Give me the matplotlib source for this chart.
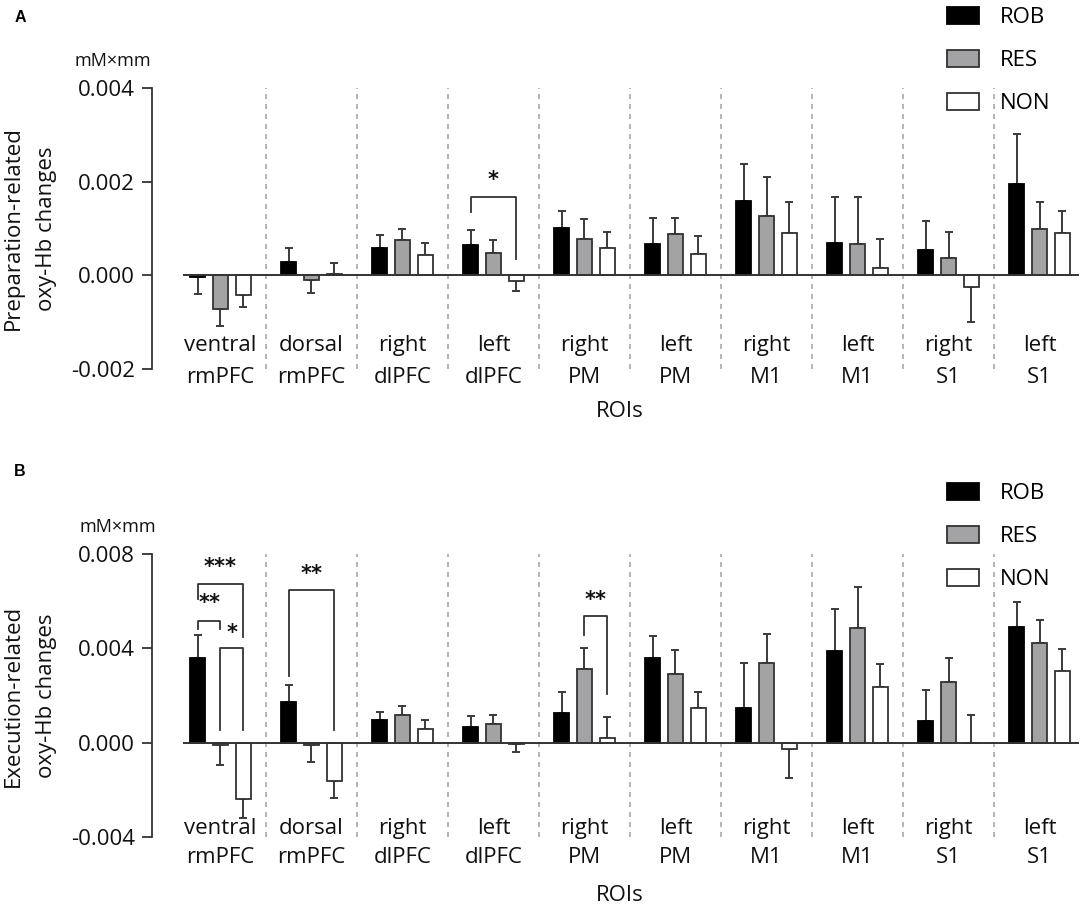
import matplotlib
matplotlib.use("Agg")
import matplotlib.pyplot as plt
import numpy as np

plt.rcParams['font.family'] = ['Open Sans', 'DejaVu Sans']
plt.rcParams['axes.unicode_minus'] = False

# ---------------- data ----------------
roi_top = ["ventral", "dorsal", "right", "left", "right", "left", "right", "left", "right", "left"]
roi_bot = ["rmPFC", "rmPFC", "dlPFC", "dlPFC", "PM", "PM", "M1", "M1", "S1", "S1"]
series_names = ["ROB", "RES", "NON"]

# Panel A: preparation-related
rob_a = [-0.00003, 0.00028, 0.00059, 0.00064, 0.00102, 0.00066, 0.00159, 0.00070, 0.00055, 0.00195]
rob_a_err = [0.00037, 0.00030, 0.00027, 0.00032, 0.00036, 0.00056, 0.00079, 0.00097, 0.00061, 0.00106]
res_a = [-0.00072, -0.00011, 0.00076, 0.00048, 0.00077, 0.00089, 0.00126, 0.00066, 0.00036, 0.00099]
res_a_err = [0.00036, 0.00027, 0.00023, 0.00027, 0.00043, 0.00033, 0.00083, 0.00101, 0.00056, 0.00057]
non_a = [-0.00043, 0.00003, 0.00043, -0.00013, 0.00059, 0.00045, 0.00090, 0.00016, -0.00024, 0.00090]
non_a_err = [0.00025, 0.00024, 0.00025, 0.00021, 0.00034, 0.00039, 0.00066, 0.00061, 0.00075, 0.00047]

# Panel B: execution-related
rob_b = [0.00358, 0.00172, 0.00097, 0.00065, 0.00124, 0.00358, 0.00147, 0.00390, 0.00091, 0.00489]
rob_b_err = [0.00100, 0.00073, 0.00033, 0.00046, 0.00092, 0.00096, 0.00189, 0.00175, 0.00131, 0.00108]
res_b = [-0.00009, -0.00011, 0.00118, 0.00078, 0.00313, 0.00290, 0.00336, 0.00485, 0.00259, 0.00421]
res_b_err = [0.00085, 0.00073, 0.00037, 0.00040, 0.00090, 0.00105, 0.00125, 0.00174, 0.00099, 0.00098]
non_b = [-0.00240, -0.00162, 0.00060, -0.00004, 0.00018, 0.00147, -0.00027, 0.00236, 0.00000, 0.00304]
non_b_err = [0.00081, 0.00073, 0.00037, 0.00036, 0.00092, 0.00068, 0.00121, 0.00098, 0.00117, 0.00093]

yticks_a = [-0.002, 0.000, 0.002, 0.004]
yticks_b = [-0.004, 0.000, 0.004, 0.008]
ylabel_a = ["Preparation-related", "oxy-Hb changes"]
ylabel_b = ["Execution-related", "oxy-Hb changes"]

# significance brackets: (group, series_from, series_to, y_bar, y_left_end, y_right_end, label, y_label)
sig_a = [(3, 0, 2, 0.00167, 0.00136, 0.00035, "*", 0.00204)]
sig_b = [(0, 0, 2, 0.00671, 0.00609, 0.00450, "***", 0.00744),
         (0, 0, 1, 0.00516, 0.00482, 0.00482, "**", 0.00592),
         (0, 1, 2, 0.00400, 0.00054, 0.00054, "*", 0.00467),
         (1, 0, 2, 0.00647, 0.00282, 0.00054, "**", 0.00716),
         (4, 1, 2, 0.00539, 0.00457, 0.00208, "**", 0.00606)]

# ---------------- style ----------------
W, H = 1084, 906
fig = plt.figure(figsize=(W / 100, H / 100), dpi=100)
colors = ["#000000", "#a3a3a6", "#ffffff"]
edge = "#333333"
txt = "#111111"
offsets = [-0.25, 0.0, 0.25]
bar_w = 0.17
x = np.arange(len(roi_top))

def px_axes(left, right, top, bottom):
    return fig.add_axes([left / W, 1 - bottom / H, (right - left) / W, (bottom - top) / H])

def panel(ax, data, ylim, yticks, ylabel, sigs, lbl_y1, lbl_y2, rois_y):
    ax.set_xlim(-0.412, 9.434)
    ax.set_ylim(*ylim)
    for b in np.arange(0.5, len(x) - 0.5, 1.0):
        ax.axvline(b, color="#a8a8a8", ls=(0, (3, 3)), lw=1.2, zorder=0)
    for k, (vals, errs) in enumerate(data):
        vals = np.array(vals)
        errs = np.array(errs)
        pos = x + offsets[k]
        lower = np.where(vals < 0, errs, 0)
        upper = np.where(vals >= 0, errs, 0)
        ax.errorbar(pos, vals, yerr=[lower, upper], fmt='none', ecolor="#3a3a3a",
                    elinewidth=1.4, capsize=3.0, capthick=1.4, zorder=1)
        ax.bar(pos, vals, width=bar_w, color=colors[k], edgecolor=edge if k else "#000000",
               linewidth=1.3, zorder=2, label=series_names[k])
    ax.axhline(0, color=edge, lw=1.4, zorder=3)
    for (g, s1, s2, yb, yl, yr, lab, ylab) in sigs:
        x1 = g + offsets[s1]
        x2 = g + offsets[s2]
        ax.plot([x1, x1, x2, x2], [yl, yb, yb, yr], color=edge, lw=1.3, zorder=4)
        ax.text((x1 + x2) / 2, ylab, lab, ha='center', va='center', fontsize=15,
                family='DejaVu Sans', fontweight='bold', color=txt)
    for sp in ["top", "right", "bottom"]:
        ax.spines[sp].set_visible(False)
    ax.spines["left"].set_position(("outward", 22.3))
    ax.spines["left"].set_color(edge)
    ax.spines["left"].set_linewidth(1.3)
    ax.set_xticks([])
    ax.set_yticks(yticks)
    ax.set_yticklabels([f"{t:.3f}" for t in yticks])
    ax.tick_params(axis='y', direction='out', length=7.2, width=1.3, color=edge,
                   labelsize=16, pad=5, labelcolor=txt)
    trans = ax.get_xaxis_transform()
    for i in x:
        ax.text(i, lbl_y1, roi_top[i], transform=trans, ha='center', va='center', fontsize=16, color=txt)
        ax.text(i, lbl_y2, roi_bot[i], transform=trans, ha='center', va='center', fontsize=16, color=txt)
    ax.text(0.4877, rois_y, "ROIs", transform=ax.transAxes, ha='center', va='center', fontsize=16, color=txt)
    # two-line y label, placed in axes coords left of the spine
    ax.text(-0.1897, 0.5, ylabel[0], transform=ax.transAxes, rotation=90, ha='center', va='center',
            fontsize=16, color=txt)
    ax.text(-0.1518, 0.5, ylabel[1], transform=ax.transAxes, rotation=90, ha='center', va='center',
            fontsize=16, color=txt)

axA = px_axes(183, 1079, 88, 369)
panel(axA, [(rob_a, rob_a_err), (res_a, res_a_err), (non_a, non_a_err)],
      (-0.002, 0.004), yticks_a, ylabel_a, sig_a,
      0.0854, -0.0285, -0.153)
axB = px_axes(183, 1079, 554, 837)
panel(axB, [(rob_b, rob_b_err), (res_b, res_b_err), (non_b, non_b_err)],
      (-0.004, 0.008), yticks_b, ylabel_b, sig_b,
      0.0318, -0.0742, -0.205)

for ax, top in [(axA, 7), (axB, 483)]:
    ax.legend(loc='upper left', bbox_to_anchor=(947 / W, 1 - top / H), bbox_transform=fig.transFigure,
              frameon=False, fontsize=16, borderpad=0, borderaxespad=0,
              handlelength=1.44, handleheight=0.81, handletextpad=0.95, labelspacing=0.98)

fig.text(113 / W, 1 - 61 / H, "mM×mm", ha='center', va='center', fontsize=13, color=txt)
fig.text(118 / W, 1 - 527 / H, "mM×mm", ha='center', va='center', fontsize=13, color=txt)
fig.text(20 / W, 1 - 17 / H, "A", ha='center', va='center', fontsize=11.5, fontweight='bold',
         family=['Liberation Sans', 'DejaVu Sans'])
fig.text(20 / W, 1 - 472 / H, "B", ha='center', va='center', fontsize=11.5, fontweight='bold',
         family=['Liberation Sans', 'DejaVu Sans'])

fig.savefig("out.png", dpi=100)
